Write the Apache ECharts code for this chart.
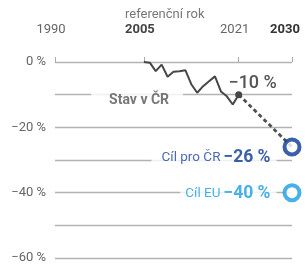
<!DOCTYPE html>
<html><head><meta charset="utf-8">
<script src="https://cdn.jsdelivr.net/npm/echarts@6/dist/echarts.min.js"></script>
<style>html,body{margin:0;padding:0;background:#fff}#c{width:305px;height:266px}</style>
</head><body><div id="c"></div>
<script>
const years = [2005,2006,2007,2008,2009,2010,2011,2012,2013,2014,2015,2016,2017,2018,2019,2020,2021];
const values = [0,-0.2,-2.8,-0.8,-4.5,-3.0,-2.8,-2.5,-6.8,-9.4,-7.4,-5.9,-4.4,-9.0,-10.5,-13,-10];
const targetYear = 2030;
const targetCZ = -26;
const targetEU = -40;
const xTicks = [1990,2005,2021,2030];
const boldTicks = [2005,2030];

const chart = echarts.init(document.getElementById('c'), null, {renderer:'canvas'});
const F = 'Roboto';
const lastIdx = years.length - 1;
const minus = v => v === 0 ? '0 %' : '\u2212' + Math.abs(v) + ' %';

chart.setOption({
  animation: false,
  textStyle: {fontFamily: F},
  grid: {left: 55, right: 13, top: 62, bottom: 8, outerBoundsMode: 'none', containLabel: false},
  graphic: [{
    type: 'text', left: 125, top: 8,
    style: {text: 'referenční rok', fontFamily: F, fontSize: 13, fill: '#777'}
  }],
  xAxis: {
    type: 'value', min: 1990, max: 2030, position: 'top', offset: 16,
    axisLine: {show: false},
    splitLine: {show: false},
    axisTick: {show: true, length: 5, customValues: xTicks, lineStyle: {color: '#aaa', width: 1}},
    axisLabel: {
      customValues: xTicks, margin: 10, fontSize: 13, color: '#666',
      padding: [0, 8, 0, 0],
      formatter: v => v === xTicks[xTicks.length - 1] ? '{e|' + v + '}' : (boldTicks.includes(v) ? '{b|' + v + '}' : '' + v),
      rich: {b: {fontWeight: 'bold', fontSize: 13, color: '#444', fontFamily: F},
             e: {fontWeight: 'bold', fontSize: 13, color: '#333', fontFamily: F, padding: [0, 6, 0, 0]}}
    }
  },
  yAxis: {
    type: 'value', min: -60, max: 0, interval: 10,
    axisLine: {show: false}, axisTick: {show: false},
    splitLine: {lineStyle: {color: '#b3b3b3', width: 1.3}},
    axisLabel: {margin: 9, fontSize: 13, color: '#666',
      formatter: v => (v % 20 === 0) ? minus(v) : ''}
  },
  series: [
    {
      type: 'line', data: years.map((y, i) => [y, values[i]]),
      showSymbol: false, symbol: 'none',
      lineStyle: {color: '#474747', width: 2}, z: 3
    },
    {
      type: 'line',
      data: [
        {value: [years[lastIdx], values[lastIdx]], symbol: 'circle', symbolSize: 7,
          label: {show: true, position: 'top', distance: -1, offset: [14, 0],
            formatter: minus(values[lastIdx]), fontSize: 18, fontWeight: 500, color: '#555', fontFamily: F}},
        {value: [targetYear, targetCZ], symbol: 'none'}
      ],
      itemStyle: {color: '#474747'},
      lineStyle: {color: '#505050', width: 2.8, type: [4, 3]}, z: 2
    },
    {
      type: 'scatter', clip: false, z: 4,
      data: [
        {value: [targetYear, targetCZ], itemStyle: {borderColor: '#0a3794'},
          label: {show: true, position: 'left', distance: 6, offset: [0, 11],
            formatter: '{a|Cíl pro ČR} {b|' + minus(targetCZ) + '}',
            backgroundColor: '#fff', padding: [2, 6, 2, 10],
            rich: {a: {fontSize: 13.5, color: '#1e45a6', fontFamily: F},
                   b: {fontSize: 17.5, fontWeight: 'bold', color: '#0a3794', fontFamily: F}}}},
        {value: [targetYear, targetEU], itemStyle: {borderColor: '#1a9de2'},
          label: {show: true, position: 'left', distance: 6, offset: [0, 1],
            formatter: '{a|Cíl EU} {b|' + minus(targetEU) + '}',
            backgroundColor: '#fff', padding: [2, 6, 2, 5],
            rich: {a: {fontSize: 13.5, color: '#1a9de2', fontFamily: F},
                   b: {fontSize: 17.5, fontWeight: 'bold', color: '#1a9de2', fontFamily: F}}}}
      ],
      symbolSize: 15,
      itemStyle: {color: '#fff', borderWidth: 4}
    },
    {
      type: 'scatter', clip: false, z: 1, silent: true,
      data: [[years[4], values[4]]],
      symbolSize: 1, itemStyle: {color: 'rgba(0,0,0,0)'},
      label: {show: true, position: 'left', distance: 0, offset: [16, 24],
        formatter: 'Stav v ČR', fontSize: 14, fontWeight: 'bold', color: '#555',
        backgroundColor: '#fff', padding: [2, 14, 2, 18], fontFamily: F}
    }
  ]
});
</script></body></html>
